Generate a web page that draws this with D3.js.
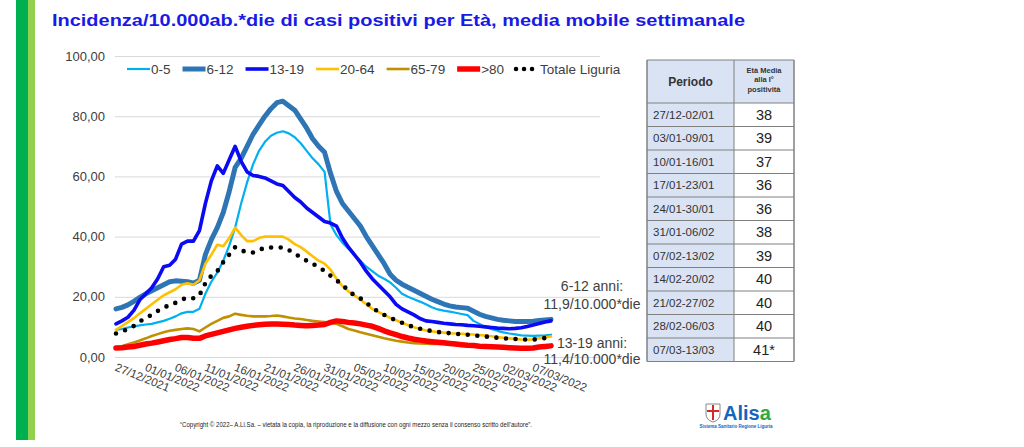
<html>
<head>
<meta charset="utf-8">
<title>Incidenza per Età</title>
<style>
body { margin: 0; background: #fff; }
#chart { font-family: "Liberation Sans", Arial, sans-serif; }
#chart .grid line { stroke: #d9d9d9; stroke-width: 1; }
#chart .grid text { fill: #404040; font-size: 13px; }
#chart .xaxis text { fill: #404040; font-size: 11.5px; }
#chart .legend text { fill: #404040; font-size: 13.5px; }
#chart .note { fill: #404040; font-size: 14px; text-anchor: middle; }
#chart .series { fill: none; stroke-linejoin: round; stroke-linecap: round; }
</style>
</head>
<body>
<svg id="chart" width="1024" height="447"></svg>
<script src="https://cdn.jsdelivr.net/npm/d3@7"></script>
<script>

// first day of the series, one value per day
var startDate = '2021-12-27';

var tickLabels = ['27/12/2021', '01/01/2022', '06/01/2022', '11/01/2022', '16/01/2022',
    '21/01/2022', '26/01/2022', '31/01/2022', '05/02/2022', '10/02/2022', '15/02/2022',
    '20/02/2022', '25/02/2022', '02/03/2022', '07/03/2022'];

var yTicks = [0, 20, 40, 60, 80, 100];

var seriesNames = ['0-5', '6-12', '13-19', '20-64', '65-79', '>80', 'Totale Liguria'];

var s0_5 = [9, 9.3, 9.8, 10.2, 10.5, 10.8, 11, 11.5, 12, 12.7, 13.5, 14.5, 15, 15, 16, 21, 25, 28, 32, 37,
    43, 51, 58, 64, 68.5, 71.5, 73.5, 74.5, 75, 74.3, 73, 71, 68.5, 66, 64, 61.5, 44, 40.5, 38, 36,
    34, 32, 30, 28.5, 27, 26, 24.8, 23, 21, 20, 19.2, 18.4, 17.5, 16.5, 15.8, 15.4, 15.1, 14.7, 14.3, 13.9,
    12, 11, 9.9, 9.3, 8.7, 8.2, 7.8, 7.5, 7.2, 7.1, 7, 7.1, 7.2, 7.4];

var s6_12 = [16, 16.5, 17.3, 18.5, 19.8, 21, 22, 23, 24, 25, 25.3, 25.2, 25, 24.5, 25.5, 34, 39, 43, 48, 55,
    63, 66, 70, 74, 77, 80, 82.5, 84.5, 85, 83.5, 82, 79, 76, 72.5, 70, 68, 61, 55, 51, 48.5,
    46, 43.5, 40, 37, 34, 31, 27.5, 25.5, 24.2, 23.2, 22.2, 21.2, 20.2, 19.2, 18.4, 17.6, 17, 16.6, 16.4, 16.2,
    15.2, 14.2, 13.5, 13, 12.5, 12.2, 12, 11.8, 11.8, 11.8, 11.9, 12.1, 12.3, 12.5];

var s13_19 = [11, 12, 13.2, 15.5, 19, 21, 23, 26, 30, 30.5, 32.5, 37.5, 38.5, 38.5, 42, 51, 58.5, 63.5, 61, 65.5,
    70, 65, 61.5, 60.3, 60, 59.5, 58.5, 57.5, 57, 55, 53, 51.5, 49.5, 48, 46.5, 45, 44.5, 43.5, 39.5, 36.5,
    34, 31.5, 28.5, 26, 24, 22, 20, 17.5, 16, 15, 14, 12.8, 12, 11.8, 11.5, 11.2, 11, 10.8, 10.7, 10.5,
    10.4, 10.2, 10, 9.8, 9.6, 9.5, 9.4, 9.5, 9.7, 10.1, 10.6, 11.1, 11.6, 12];

var s20_64 = [9, 10.3, 11.6, 12.9, 14.5, 16, 17.5, 19, 20.5, 21.5, 22.5, 24, 24.5, 24, 25.5, 31, 34, 37.3, 36.8, 39.5,
    43, 40.5, 38.5, 38.5, 39.5, 40, 40, 40, 40, 39, 37.5, 36.5, 35, 33.5, 32, 31, 29, 26, 23.5, 21.8,
    20.5, 19, 17.5, 16, 15, 14, 13, 12.2, 11.4, 10.6, 9.9, 9.3, 8.8, 8.5, 8.3, 8.1, 7.9, 7.8, 7.7, 7.6,
    7.5, 7.3, 7.1, 6.9, 6.6, 6.4, 6.2, 6, 5.8, 5.7, 5.9, 6.2, 6.5, 6.8];

var s65_79 = [3.2, 3.6, 4.2, 4.8, 5.5, 6.2, 7, 7.6, 8.2, 8.7, 9, 9.3, 9.5, 9.3, 8.5, 9.8, 11, 12, 13, 13.5,
    14.4, 14, 13.7, 13.5, 13.5, 13.5, 13.6, 13.8, 13.5, 13.1, 12.8, 12.6, 12.3, 12, 11.8, 11.6, 11.4, 11, 10.2, 9.3,
    8.8, 8.2, 7.7, 7.2, 6.7, 6.2, 5.8, 5.4, 5.1, 4.8, 4.6, 4.5, 4.4, 4.3, 4.4, 4.3, 4.2, 4, 3.8, 3.6,
    3.5, 3.4, 3.3, 3.2, 3.1, 3, 2.9, 2.9, 2.8, 2.8, 2.9, 3.1, 3.3, 3.5];

var s80 = [3, 3.1, 3.3, 3.5, 3.9, 4.3, 4.6, 5, 5.4, 5.8, 6.1, 6.5, 6.5, 6.2, 6.2, 7, 7.5, 8, 8.5, 9,
    9.5, 9.9, 10.2, 10.5, 10.7, 10.9, 11, 11, 10.9, 10.8, 10.6, 10.5, 10.4, 10.5, 10.6, 10.8, 11.5, 12, 11.8, 11.5,
    11.3, 11, 10.6, 10.2, 9.5, 8.7, 8, 7.4, 6.8, 6.3, 5.9, 5.6, 5.3, 5.1, 4.9, 4.7, 4.5, 4.3, 4.1, 3.9,
    3.8, 3.6, 3.5, 3.4, 3.3, 3.2, 3.1, 3, 2.9, 2.9, 3, 3.3, 3.5, 3.7];

var sTotale = [7.8, 8.5, 9.2, 10.3, 11.8, 13, 14, 15.3, 16.2, 17.5, 18, 19, 19.8, 19.5, 20.5, 24.5, 27, 28.5, 31.5, 34,
    36.5, 35.5, 34.7, 34.7, 35.5, 36.4, 36.4, 36.4, 36.4, 35.5, 34.5, 33, 32, 31, 29.8, 28.6, 27, 25.5, 24, 22,
    20.5, 19.5, 18, 16.5, 15, 14, 13, 12.2, 11.4, 10.6, 9.9, 9.4, 9, 8.6, 8.3, 8.1, 7.9, 7.7, 7.6, 7.4,
    7.2, 7, 6.8, 6.6, 6.4, 6.2, 6.1, 6, 5.9, 5.8, 5.8, 6, 6.3, 6.6];

var noteLines = ['6-12 anni:', '11,9/10.000*die', '13-19 anni:', '11,4/10.000*die'];

var periodi = ['27/12-02/01', '03/01-09/01', '10/01-16/01', '17/01-23/01', '24/01-30/01', '31/01-06/02',
    '07/02-13/02', '14/02-20/02', '21/02-27/02', '28/02-06/03', '07/03-13/03'];
var etaMedia = ['38', '39', '37', '36', '36', '38', '39', '40', '40', '40', '41*'];

var svg = d3.select('#chart');
var parseDay = d3.timeParse('%Y-%m-%d'),
    parseLabel = d3.timeParse('%d/%m/%Y'),
    day0 = parseDay(startDate);

var styles = [
    { color: '#00b0f0', width: 2.2 },
    { color: '#2e75b6', width: 5 },
    { color: '#0a0af5', width: 3.6 },
    { color: '#ffc000', width: 2.6 },
    { color: '#bf9000', width: 2.6 },
    { color: '#ff0000', width: 5.5 },
    { color: '#000', width: 4.6, dash: '0,9.6' }
];

var allSeries = [s0_5, s6_12, s13_19, s20_64, s65_79, s80, sTotale].map(function(values, i) {
    return {
        name: seriesNames[i],
        style: styles[i],
        points: values.map(function(v, j) { return { date: d3.timeDay.offset(day0, j), value: v }; })
    };
});

var x = d3.scaleTime()
    .domain([day0, d3.timeDay.offset(day0, s0_5.length - 1)])
    .range([116, 551]);

var y = d3.scaleLinear()
    .domain([0, 100])
    .range([357, 56]);

// green side bars
svg.append('rect').attr('x', 16).attr('y', 0).attr('width', 12).attr('height', 440).attr('fill', '#00b050');
svg.append('rect').attr('x', 28).attr('y', 0).attr('width', 7).attr('height', 440).attr('fill', '#92d050');

svg.append('text')
    .attr('x', 52)
    .attr('y', 26)
    .attr('fill', '#1a1ae6')
    .style('font-size', '16.5px')
    .style('font-weight', 'bold')
    .attr('textLength', 693)
    .attr('lengthAdjust', 'spacingAndGlyphs')
    .text('Incidenza/10.000ab.*die di casi positivi per Età, media mobile settimanale');

// y grid + labels
var yAxis = d3.axisLeft(y)
    .tickValues(yTicks)
    .tickSize(-(600 - 115))
    .tickPadding(10)
    .tickFormat(function(d) { return d3.format('.2f')(d).replace('.', ','); });

svg.append('g')
    .attr('class', 'grid')
    .attr('transform', 'translate(115,0)')
    .call(yAxis)
    .call(function(g) { g.select('.domain').remove(); });

// x labels, slanted
var xAxis = d3.axisBottom(x)
    .tickValues(tickLabels.map(function(d) { return parseLabel(d); }))
    .tickSize(0)
    .tickFormat(d3.timeFormat('%d/%m/%Y'));

svg.append('g')
    .attr('class', 'xaxis')
    .attr('transform', 'translate(0,' + y(0) + ')')
    .call(xAxis)
    .call(function(g) { g.select('.domain').remove(); })
    .selectAll('text')
    .attr('x', 3)
    .attr('y', 5)
    .attr('dy', '0.71em')
    .attr('text-anchor', 'start')
    .attr('transform', 'rotate(22)');

var line = d3.line()
    .x(function(d) { return x(d.date); })
    .y(function(d) { return y(d.value); });

svg.append('g')
    .selectAll('path')
    .data(allSeries)
    .join('path')
    .attr('class', 'series')
    .attr('d', function(d) { return line(d.points); })
    .attr('stroke', function(d) { return d.style.color; })
    .attr('stroke-width', function(d) { return d.style.width; })
    .attr('stroke-dasharray', function(d) { return d.style.dash || null; });

// legend
var legend = svg.append('g').attr('class', 'legend');
var cursor = 127, legendY = 69;
allSeries.forEach(function(s) {
    legend.append('line')
        .attr('x1', cursor).attr('x2', cursor + 23)
        .attr('y1', legendY).attr('y2', legendY)
        .attr('stroke', s.style.color)
        .attr('stroke-width', s.style.width)
        .attr('stroke-linecap', s.style.dash ? 'round' : 'butt')
        .attr('stroke-dasharray', s.style.dash ? '0,8' : null);
    var t = legend.append('text')
        .attr('x', cursor + 24)
        .attr('y', legendY + 4.5)
        .text(s.name);
    cursor += 24 + t.node().getComputedTextLength() + 12;
});

// notes at the right end of the lines
var noteY = [286, 304, 343, 359];
svg.selectAll('.note')
    .data(noteLines)
    .join('text')
    .attr('class', 'note')
    .attr('x', 592)
    .attr('y', function(d, i) { return noteY[i] + 5; })
    .text(function(d) { return d; });

// table
var table = svg.append('g').attr('class', 'table');
var colX = [647, 734, 794], headTop = 60, headBottom = 103;
var rowY = d3.scaleBand()
    .domain(d3.range(periodi.length))
    .range([headBottom, 361.5]);

table.append('rect')
    .attr('x', colX[0]).attr('y', headTop)
    .attr('width', colX[2] - colX[0]).attr('height', headBottom - headTop)
    .attr('fill', '#dae3f3');

table.append('rect')
    .attr('x', colX[0]).attr('y', headBottom)
    .attr('width', colX[1] - colX[0]).attr('height', rowY.range()[1] - headBottom)
    .attr('fill', '#dae3f3');

table.append('text')
    .attr('x', (colX[0] + colX[1]) / 2)
    .attr('y', 86)
    .attr('text-anchor', 'middle')
    .attr('fill', '#333')
    .style('font-size', '12px')
    .style('font-weight', 'bold')
    .text('Periodo');

['Età Media', 'alla I°', 'positività'].forEach(function(d, i) {
    table.append('text')
        .attr('x', (colX[1] + colX[2]) / 2)
        .attr('y', 72.5 + i * 9.5)
        .attr('text-anchor', 'middle')
        .attr('fill', '#333')
        .style('font-size', '7.5px')
        .style('font-weight', 'bold')
        .text(d);
});

var rows = table.selectAll('.row')
    .data(periodi)
    .join('g')
    .attr('class', 'row')
    .attr('transform', function(d, i) { return 'translate(0,' + rowY(i) + ')'; });

rows.append('text')
    .attr('x', colX[0] + 6)
    .attr('y', rowY.bandwidth() / 2 + 4)
    .attr('fill', '#333')
    .style('font-size', '11.5px')
    .text(function(d) { return d; });

rows.append('text')
    .attr('x', (colX[1] + colX[2]) / 2)
    .attr('y', rowY.bandwidth() / 2 + 5)
    .attr('text-anchor', 'middle')
    .attr('fill', '#222')
    .style('font-size', '14.5px')
    .text(function(d, i) { return etaMedia[i]; });

// table rules
var hLines = [headTop, headBottom].concat(d3.range(1, periodi.length + 1).map(function(i) {
    return i < periodi.length ? rowY(i) : rowY.range()[1];
}));
table.selectAll('.hline')
    .data(hLines)
    .join('line')
    .attr('x1', colX[0]).attr('x2', colX[2])
    .attr('y1', function(d) { return d; }).attr('y2', function(d) { return d; })
    .attr('stroke', '#808080')
    .attr('stroke-width', 1);

table.selectAll('.vline')
    .data(colX)
    .join('line')
    .attr('x1', function(d) { return d; }).attr('x2', function(d) { return d; })
    .attr('y1', headTop).attr('y2', rowY.range()[1])
    .attr('stroke', '#808080')
    .attr('stroke-width', function(d, i) { return i === 1 ? 1 : 1.5; });

// footer
svg.append('text')
    .attr('x', 180)
    .attr('y', 427)
    .attr('fill', '#222')
    .style('font-size', '7px')
    .attr('textLength', 352)
    .attr('lengthAdjust', 'spacingAndGlyphs')
    .text('\u201CCopyright \u00A9 2022\u2013 A.Li.Sa. \u2013 vietata la copia, la riproduzione e la diffusione con ogni mezzo senza il consenso scritto dell\u2019autore\u201D.');

// Alisa mark
var logo = svg.append('g').attr('transform', 'translate(706,404)');
logo.append('path')
    .attr('d', 'M0,0 H14 V10 Q14,16 7,18 Q0,16 0,10 Z')
    .attr('fill', '#fff')
    .attr('stroke', '#888')
    .attr('stroke-width', 1);
logo.append('rect').attr('x', 6).attr('y', 1).attr('width', 2).attr('height', 15).attr('fill', '#d42a2a');
logo.append('rect').attr('x', 1).attr('y', 6).attr('width', 12).attr('height', 2).attr('fill', '#d42a2a');
var logoText = logo.append('text')
    .attr('x', 17)
    .attr('y', 16)
    .style('font-size', '20px')
    .style('font-weight', 'bold');
logoText.append('tspan').attr('fill', '#1565c0').text('Alis');
logoText.append('tspan').attr('fill', '#2eaa3c').text('a');
logo.append('text')
    .attr('x', 30)
    .attr('y', 24)
    .attr('text-anchor', 'middle')
    .attr('fill', '#1565c0')
    .style('font-size', '4.5px')
    .style('font-weight', 'bold')
    .text('Sistema Sanitario Regione Liguria');

</script>
</body>
</html>
